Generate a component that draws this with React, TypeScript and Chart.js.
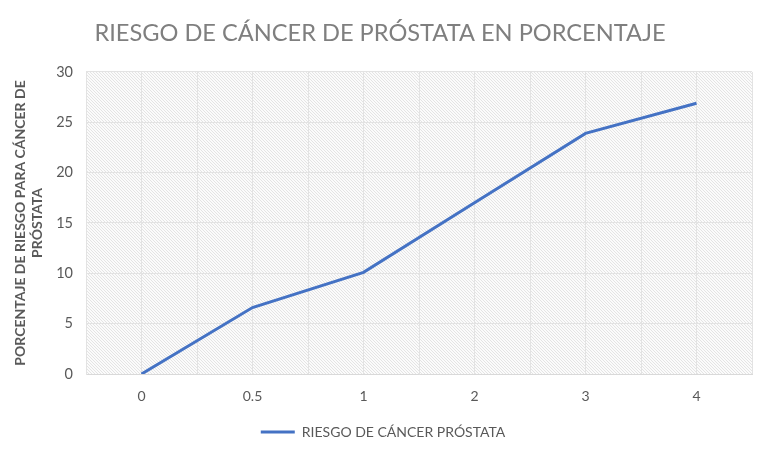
import React, { useEffect, useRef } from "react";
import { Chart, registerables } from "chart.js";

Chart.register(...registerables);

const categories = ["0", "0.5", "1", "2", "3", "4"];
const riskValues = [0, 6.6, 10.1, 17.0, 23.9, 26.9];
const yTicks = [0, 5, 10, 15, 20, 25, 30];

const TITLE = "RIESGO DE CÁNCER DE PRÓSTATA EN PORCENTAJE";
const Y_TITLE = ["PORCENTAJE DE RIESGO PARA CÁNCER DE", "PRÓSTATA"];
const SERIES = "RIESGO DE CÁNCER PRÓSTATA";

function makePattern(): CanvasPattern | string {
  const c = document.createElement("canvas");
  c.width = 3;
  c.height = 3;
  const g = c.getContext("2d");
  if (!g) return "#f2f2f2";
  g.fillStyle = "#fbfbfb";
  g.fillRect(0, 0, 3, 3);
  g.fillStyle = "#e4e4e4";
  for (let i = 0; i < 3; i++) g.fillRect(i, i, 1, 1);
  return g.createPattern(c, "repeat") || "#f2f2f2";
}

export default function App() {
  const ref = useRef<HTMLCanvasElement | null>(null);
  useEffect(() => {
    document.body.style.margin = "0";
    const canvas = ref.current;
    if (!canvas) return;
    const pattern = makePattern();
    const bgPlugin = {
      id: "hatchBg",
      afterLayout(chart: any) {
        if (chart.legend) {
          chart.legend.left += 7;
          chart.legend.right += 7;
        }
        if (chart.titleBlock) {
          chart.titleBlock.left += 4;
          chart.titleBlock.right += 4;
        }
      },
      beforeDraw(chart: any) {
        const { ctx, chartArea } = chart;
        ctx.save();
        ctx.fillStyle = "#ffffff";
        ctx.fillRect(0, 0, chart.width, chart.height);
        ctx.fillStyle = pattern;
        ctx.fillRect(chartArea.left, chartArea.top, chartArea.right - chartArea.left, chartArea.bottom - chartArea.top);
        ctx.restore();
      },
    };
    const chart = new Chart(canvas, {
      type: "line",
      data: {
        datasets: [
          {
            label: SERIES,
            data: riskValues.map((v, i) => ({ x: i, y: v })),
            borderColor: "#4472C4",
            backgroundColor: "#4472C4",
            borderWidth: 3,
            pointRadius: 0,
            pointStyle: "line",
            tension: 0,
          },
        ],
      },
      plugins: [bgPlugin],
      options: {
        animation: false,
        responsive: false,
        layout: { padding: { left: 0, right: 16, top: 0, bottom: 2 } },
        plugins: {
          title: {
            display: true,
            text: TITLE,
            color: "#7f7f7f",
            font: { family: "Lato", size: 23.6, weight: "normal", lineHeight: 1.27 },
            padding: { top: 18, bottom: 24 },
          },
          legend: {
            position: "bottom",
            labels: {
              usePointStyle: true,
              pointStyle: "line",
              pointStyleWidth: 34,
              color: "#595959",
              font: { family: "Lato", size: 14 },
              padding: 10,
            },
          },
          tooltip: { enabled: false },
        },
        scales: {
          x: {
            type: "linear",
            min: -0.5,
            max: 5.5,
            afterFit: (s: any) => {
              s.height = 41;
            },
            afterBuildTicks: (s: any) => {
              const t = [];
              for (let v = -0.5; v <= 5.5001; v += 0.5) t.push({ value: v });
              s.ticks = t;
            },
            ticks: {
              color: "#595959",
              font: { family: "Lato", size: 14 },
              padding: 14,
              maxRotation: 0,
              autoSkip: false,
              callback: (v: any) => {
                const n = Number(v);
                return Number.isInteger(n) && n >= 0 && n < categories.length ? categories[n] : "";
              },
            },
            grid: { color: "#e3e3e3", drawTicks: false },
            border: { color: "#d9d9d9" },
          },
          y: {
            min: 0,
            max: 30,
            afterFit: (s: any) => {
              s.width = 86;
            },
            afterBuildTicks: (s: any) => {
              s.ticks = yTicks.map((v) => ({ value: v }));
            },
            ticks: {
              color: "#595959",
              font: { family: "Lato", size: 14.5 },
              padding: 13,
            },
            grid: { color: "#e3e3e3", drawTicks: false },
            border: { color: "#e3e3e3" },
            title: {
              display: true,
              text: Y_TITLE,
              color: "#595959",
              font: { family: "Lato", size: 14, weight: "bold" },
              padding: { top: 12, bottom: 0 },
            },
          },
        },
      },
    } as any);
    return () => chart.destroy();
  }, []);
  return <canvas ref={ref} width={768} height={451} style={{ display: "block" }} />;
}
